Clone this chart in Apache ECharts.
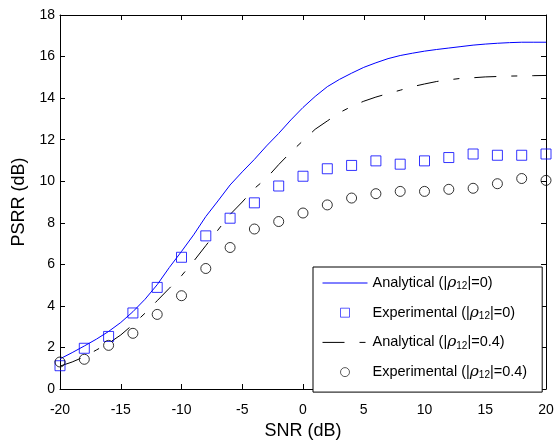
<!DOCTYPE html>
<html>
<head>
<meta charset="utf-8">
<script src="https://cdn.jsdelivr.net/npm/echarts@6/dist/echarts.min.js"></script>
<style>html,body{margin:0;padding:0;background:#fff}#c{width:557px;height:445px}</style>
</head>
<body>
<div id="c"></div>
<script>
var xLine = [-20,-19,-18,-17,-16,-15,-14,-13,-12,-11,-10,-9,-8,-7,-6,-5,-4,-3,-2,-1,0,1,2,3,4,5,6,7,8,9,10,11,12,13,14,15,16,17,18,19,20];
var analytical0 = [1.45,1.75,2.07,2.4,2.77,3.2,3.72,4.32,5.02,5.85,6.62,7.42,8.3,9.05,9.82,10.45,11.05,11.7,12.3,12.95,13.55,14.08,14.55,14.9,15.2,15.48,15.7,15.9,16.05,16.16,16.26,16.34,16.41,16.48,16.55,16.6,16.64,16.67,16.69,16.69,16.69];
var analytical04 = [1.1,1.3,1.55,1.88,2.2,2.6,3.1,3.65,4.25,4.85,5.45,6.15,6.9,7.65,8.4,9.0,9.65,10.15,10.8,11.4,11.95,12.5,12.9,13.3,13.6,13.85,14.05,14.22,14.38,14.55,14.68,14.8,14.88,14.95,14.98,15.02,15.04,15.06,15.07,15.08,15.09];
var xExp = [-20,-18,-16,-14,-12,-10,-8,-6,-4,-2,0,2,4,6,8,10,12,14,16,18,20];
var experimental0 = [1.12,1.96,2.53,3.66,4.89,6.34,7.37,8.22,8.96,9.77,10.24,10.6,10.76,10.98,10.82,10.98,11.14,11.31,11.25,11.25,11.31];
var experimental04 = [1.3,1.43,2.1,2.68,3.59,4.49,5.8,6.81,7.7,8.06,8.47,8.86,9.19,9.4,9.51,9.51,9.61,9.66,9.88,10.13,10.04];
var xTicks = {min:-20, max:20, interval:5};
var yTicks = {min:0, max:18, interval:2};
var names = ['Analytical (|\u03c112|=0)','Experimental (|\u03c112|=0)','Analytical (|\u03c112|=0.4)','Experimental (|\u03c112|=0.4)'];
var richNames = {};
richNames[names[0]] = '{t|Analytical (|}{r|\u03c1}{s|12}{t||=0)}';
richNames[names[1]] = '{t|Experimental (|}{r|\u03c1}{s|12}{t||=0)}';
richNames[names[2]] = '{t|Analytical (|}{r|\u03c1}{s|12}{t||=0.4)}';
richNames[names[3]] = '{t|Experimental (|}{r|\u03c1}{s|12}{t||=0.4)}';

function pairs(xs, ys){ return xs.map(function(x,i){ return [x, ys[i]]; }); }

var FONT = 'Liberation Sans, Arial, sans-serif';
var chart = echarts.init(document.getElementById('c'), null, {renderer:'canvas'});
var baseAxis = {
  axisLine:{show:true, onZero:false, lineStyle:{color:'#000', width:1}},
  axisTick:{show:true, inside:true, length:5, lineStyle:{color:'#000', width:1}},
  splitLine:{show:false}
};
chart.setOption({
  animation:false,
  backgroundColor:'#fff',
  grid:{left:60, right:11, top:15, bottom:48, containLabel:false},
  xAxis:[
    Object.assign({type:'value', position:'bottom', min:xTicks.min, max:xTicks.max, interval:xTicks.interval,
      name:'SNR (dB)', nameLocation:'middle', nameGap:33,
      nameTextStyle:{fontFamily:FONT, fontSize:18, color:'#000'},
      axisLabel:{fontFamily:FONT, fontSize:14, color:'#000', margin:14}}, baseAxis),
    Object.assign({type:'value', position:'top', min:xTicks.min, max:xTicks.max, interval:xTicks.interval,
      axisLabel:{show:false}}, baseAxis)
  ],
  yAxis:[
    Object.assign({type:'value', position:'left', min:yTicks.min, max:yTicks.max, interval:yTicks.interval,
      name:'PSRR (dB)', nameLocation:'middle', nameGap:27,
      nameTextStyle:{fontFamily:FONT, fontSize:18, color:'#000'},
      axisLabel:{fontFamily:FONT, fontSize:14, color:'#000', margin:5}}, baseAxis),
    Object.assign({type:'value', position:'right', min:yTicks.min, max:yTicks.max, interval:yTicks.interval,
      axisLabel:{show:false}}, baseAxis)
  ],
  legend:{
    orient:'vertical', left:313, top:267,
    padding:[7.5,15,11.5,9],
    itemWidth:45, itemHeight:9, itemGap:12.7, textGap:4,
    symbolKeepAspect:true,
    backgroundColor:'#fff', borderColor:'#000', borderWidth:1,
    data:[
      {name:names[0], itemStyle:{opacity:0}, lineStyle:{width:1, color:'#0000ff'}},
      {name:names[1], icon:'path://M0,0H10V10H0Z', itemStyle:{borderWidth:0.8}},
      {name:names[2], itemStyle:{opacity:0}, lineStyle:{width:1, color:'#000', type:[22,15,6,15]}},
      {name:names[3], icon:'path://M10,5A5,5,0,1,1,0,5A5,5,0,1,1,10,5Z', itemStyle:{borderWidth:0.8}}
    ],
    formatter:function(n){ return richNames[n]; },
    textStyle:{
      fontFamily:FONT, fontSize:14.5, color:'#000',
      rich:{
        t:{fontFamily:FONT, fontSize:14.5, color:'#000', lineHeight:16},
        r:{fontFamily:'DejaVu Serif, serif', fontStyle:'italic', fontSize:15.5, color:'#000', lineHeight:16},
        s:{fontFamily:FONT, fontSize:10, color:'#000', lineHeight:16, padding:[7,0,0,0]}
      }
    }
  },
  series:[
    {name:names[0], type:'line', data:pairs(xLine, analytical0), showSymbol:false, symbol:'none',
      lineStyle:{color:'#0000ff', width:1}, itemStyle:{color:'#0000ff'}, z:2},
    {name:names[1], type:'scatter', data:pairs(xExp, experimental0), symbol:'rect', symbolSize:10,
      itemStyle:{color:'rgba(0,0,0,0)', borderColor:'#0000ff', borderWidth:1}, z:3},
    {name:names[2], type:'line', data:pairs(xLine, analytical04), showSymbol:false, symbol:'none',
      lineStyle:{color:'#000', width:1, type:[22,15,6,15]}, itemStyle:{color:'#000'}, z:2},
    {name:names[3], type:'scatter', data:pairs(xExp, experimental04), symbol:'circle', symbolSize:10,
      itemStyle:{color:'rgba(0,0,0,0)', borderColor:'#000', borderWidth:1}, z:3}
  ]
});
</script>
</body>
</html>
